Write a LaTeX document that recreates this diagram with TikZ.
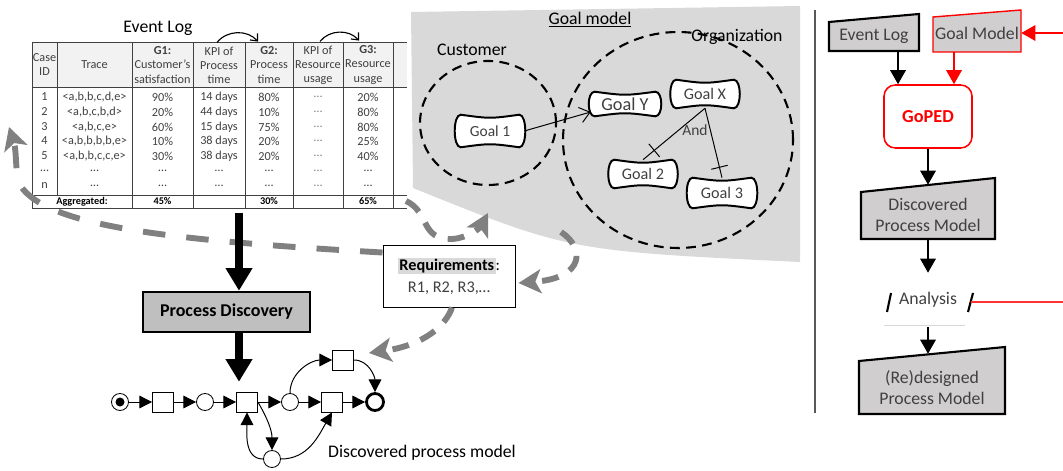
\documentclass[tikz,border=0pt]{standalone}
\usepackage{fontspec}
\setmainfont{Carlito}
\usetikzlibrary{arrows.meta,calc,backgrounds,decorations.markings}

\def\pix{0.025cm}
\definecolor{callout}{RGB}{217,217,217}
\definecolor{docfill}{RGB}{208,206,206}
\definecolor{stepfill}{RGB}{191,191,191}
\definecolor{ink}{RGB}{64,64,64}
\definecolor{flowgrey}{RGB}{128,128,128}

\newcommand{\pillow}[1]{%
  \draw[line width=1.4pt, fill=white]
    ($(#1.north west)+(5,0)$) .. controls ($(#1.north)+(0,-4)$) .. ($(#1.north east)+(-5,0)$)
    .. controls ($(#1.north east)+(3,0)$) and ($(#1.south east)+(3,0)$) .. ($(#1.south east)+(-5,0)$)
    .. controls ($(#1.south)+(0,4)$) .. ($(#1.south west)+(5,0)$)
    .. controls ($(#1.south west)+(-3,0)$) and ($(#1.north west)+(-3,0)$) .. cycle;}
\newcommand{\docshape}[6]{%
  \draw[line width=1.5pt, fill=docfill, draw=#6]
    ($(#1)+(-#2,#3)$) -- ($(#1)+(#2,#4)$) -- ($(#1)+(#2,-#5)$) -- ($(#1)+(-#2,-#5)$) -- cycle;}

\tikzset{
  big/.style={font=\fontsize{12.6}{15}\selectfont},
  cell/.style={font=\fontsize{8.7}{10}\selectfont, text=ink, inner sep=0pt, align=center},
  aggcell/.style={font=\fontsize{7.3}{9}\selectfont\bfseries, inner sep=0pt},
  tabline/.style={line width=0.6pt, draw=black!75},
  kpiarrow/.style={-{Straight Barb[length=4pt,width=7pt]}, line width=0.8pt},
  goal/.style={inner sep=0pt, text=ink},
  region/.style={line width=1.5pt, dash pattern=on 7pt off 4.5pt},
  andtick/.style={postaction={decorate}, decoration={markings,
    mark=at position #1 with {\draw[line width=0.7pt] (0,-6pt) -- (0,6pt);}}},
  place/.style={circle, draw, fill=white, minimum size=17*\pix, inner sep=0pt, line width=0.6pt},
  trans/.style={draw, fill=white, minimum width=21*\pix, minimum height=20*\pix, inner sep=0pt, line width=0.6pt},
  petriarc/.style={-{Triangle[length=9pt,width=9pt]}, line width=0.7pt},
  flow/.style={-{Triangle[length=10pt,width=11pt]}, line width=1.3pt},
  bigflow/.style={-{Triangle[length=16pt,width=18pt]}, line width=6pt},
  gdash/.style={draw=flowgrey, line width=4.2pt, dash pattern=on 16pt off 15pt,
    -{Stealth[length=16pt,width=17pt,inset=4pt]}},
  docnode/.style={big, text=ink, inner sep=0pt, align=center}
}

\begin{document}
\begin{tikzpicture}[x=\pix, y=\pix]
\useasboundingbox (0,0) rectangle (1063,-471);

% event log table
\node[big] (logtitle) at (158,-28) {Event Log};
\draw[tabline] (32,-42) -- (407,-42) (32,-87) -- (407,-87) (32,-195) -- (407,-195) (32,-208) -- (407,-208);
\foreach \x in {32,132,193,245,293,343,393} \draw[tabline] (\x,-42) -- (\x,-208);
\draw[tabline] (57,-42) -- (57,-195);

\node[cell] (hcase) at (44.5,-65) {Case\\ID};
\node[cell] (htrace) at (94.5,-65) {Trace};
\node[cell] (hgone) at (162.5,-65) {\textbf{G1:}\\Customer's\\satisfaction};
\node[cell] (hkpt) at (219,-65) {KPI of\\Process\\time};
\node[cell] (hgtwo) at (269,-65) {\textbf{G2:}\\Process\\time};
\node[cell] (hkpr) at (318,-65) {KPI of\\Resource\\usage};
\node[cell] (hgthree) at (368,-65) {\textbf{G3:}\\Resource\\usage};

\foreach \rowy/\cid/\trace/\gone/\kpit/\gtwo/\gthree in {
    97/1/{<a,b,b,c,d,e>}/90\%/14 days/80\%/20\%,
    112/2/{<a,b,c,b,d>}/20\%/44 days/10\%/80\%,
    127/3/{<a,b,c,e>}/60\%/15 days/75\%/80\%,
    141/4/{<a,b,b,b,b,e>}/10\%/38 days/20\%/25\%,
    156/5/{<a,b,b,c,c,e>}/30\%/38 days/20\%/40\%,
    171/…/…/…/…/…/…,
    186/n/…/…/…/…/…}{
  \node[cell] (id\rowy) at (44.5,-\rowy) {\cid};
  \node[cell] (tr\rowy) at (94.5,-\rowy) {\trace};
  \node[cell] (ga\rowy) at (162.5,-\rowy) {\gone};
  \node[cell] (kt\rowy) at (219,-\rowy) {\kpit};
  \node[cell] (gb\rowy) at (269,-\rowy) {\gtwo};
  \node[cell, text=gray] (kr\rowy) at (318,-\rowy) {…};
  \node[cell] (gc\rowy) at (368,-\rowy) {\gthree};
}
\node[aggcell] (agg) at (82,-201.5) {Aggregated:};
\node[aggcell] (aggone) at (162.5,-201.5) {45\%};
\node[aggcell] (aggtwo) at (269,-201.5) {30\%};
\node[aggcell] (aggthree) at (368,-201.5) {65\%};

\draw[kpiarrow] ($(hkpt.north)+(-2,4)$) to[bend left=50] ($(hgtwo.north)+(-11,5)$);
\draw[kpiarrow] ($(hkpr.north)+(2,4)$) to[bend left=50] ($(hgthree.north)+(-9,5)$);

% goal model
\node[big, align=center] (gmtitle) at (590,-20) {\underline{Goal model}};
\node[big] (cust) at (472,-50) {Customer};
\node[big] (org) at (737,-37) {Organization};
\draw[region] (488,-123) ellipse [x radius=68, y radius=62];
\draw[region] (678,-140) ellipse [x radius=115, y radius=108];

\node[goal, minimum width=68*\pix, minimum height=32*\pix, font=\fontsize{11}{13}\selectfont] (goalone) at (490,-131) {Goal 1};
\node[goal, minimum width=70*\pix, minimum height=24*\pix, font=\fontsize{13}{15}\selectfont] (goaly) at (625,-104) {Goal Y};
\node[goal, minimum width=67*\pix, minimum height=28*\pix, font=\fontsize{11.5}{13}\selectfont] (goalx) at (705,-94) {Goal X};
\node[goal, minimum width=67*\pix, minimum height=28*\pix, font=\fontsize{11.5}{13}\selectfont] (goaltwo) at (643,-174) {Goal 2};
\node[goal, minimum width=68*\pix, minimum height=30*\pix, font=\fontsize{11.5}{13}\selectfont] (goalthree) at (722,-193) {Goal 3};
\node[goal, font=\fontsize{11}{13}\selectfont] (andlbl) at (695,-130) {And};

\draw[line width=0.7pt, -{Straight Barb[length=7pt,width=11pt]}] (goalone.east) -- ($(goaly.west)+(1,-8)$);
\draw[line width=0.7pt, andtick=0.82] (goalx.south) -- (goaltwo.north);
\draw[line width=0.7pt, andtick=0.85] (goalx.south) -- (goalthree.north);

% requirements and discovery
\node[draw, fill=white, line width=0.7pt, minimum width=132*\pix, minimum height=62*\pix, align=center,
  font=\fontsize{11.6}{15.6}\selectfont] (req) at (449,-276)
  {{\fboxsep=1pt\colorbox{callout}{\textbf{Requirements}}}:\\\textcolor{ink}{R1, R2, R3,…}};
\node[draw, fill=stepfill, line width=1.8pt, minimum width=167*\pix, minimum height=40*\pix,
  font=\fontsize{12.8}{15}\selectfont\bfseries] (pd) at (226.5,-312) {Process Discovery};

% petri net
\node[place] (source) at (120,-402) {};
\node[circle, fill, inner sep=0pt, minimum size=9*\pix] (tok) at (source) {};
\node[trans] (t1) at (163,-402) {};
\node[place] (p1) at (205,-402) {};
\node[trans] (t2) at (247,-402) {};
\node[place] (p2) at (290,-402) {};
\node[trans] (t3) at (332,-402) {};
\node[place, line width=2pt] (sink) at (375,-402) {};
\node[trans] (t4) at (343,-360) {};
\node[place] (p3) at (272,-459) {};
\node[big] (pmlabel) at (422,-453) {Discovered process model};

\foreach \a/\b in {source/t1, t1/p1, p1/t2, t2/p2, p2/t3, t3/sink}
  \draw[petriarc] (\a) -- (\b);
\draw[petriarc] (p2) to[out=90, in=180] (t4);
\draw[petriarc] (t4) to[out=0, in=90] (sink);
\draw[petriarc] (t2.east) to[out=-60, in=90] (p3);
\draw[petriarc] (p3) to[out=180, in=-90] (t2.south);
\draw[petriarc] (p3) to[out=0, in=-120] (t3.south);

% grey feedback arrows
\coordinate (reqtl) at ($(req.north west)+(0,-8)$);
\coordinate (logleft) at (9,-127);
\coordinate (aggr) at (406,-201);
\coordinate (gmin) at (488,-213);
\coordinate (gmout) at (561,-232);
\draw[gdash] (reqtl) .. controls (160,-240) and (45,-225) .. (20,-185)
  .. controls (15,-176) and (17,-152) .. (logleft);
\draw[gdash, dash pattern=on 12pt off 9pt] (aggr) .. controls (430,-212) and (420,-240) .. (452,-239)
  .. controls (468,-238) and (480,-228) .. (gmin);
\draw[gdash, dash pattern=on 12pt off 9pt] (gmout) .. controls (585,-248) and (585,-278) .. ($(req.east)+(3,-7)$);
\draw[gdash, dash pattern=on 12pt off 9pt] ($(req.south)+(3,0)$) .. controls (446,-325) and (425,-345) .. ($(t4.east)+(15,7)$);

% black discovery arrows
\coordinate (logout) at (239,-213);
\draw[bigflow] (logout) -- (logout |- pd.north);
\draw[bigflow, shorten >=7pt] (pd.south -| logout) -- (logout |- t2.north);

% right panel
\draw[line width=1.5pt, black!65] (815,-10) -- (815,-413);
\node[docnode, minimum width=90*\pix, minimum height=30*\pix] (el) at (874,-36) {Event Log};
\node[docnode, minimum width=88*\pix, minimum height=38*\pix] (gm) at (977,-33) {Goal Model};
\node[draw=red, line width=1.1pt, rounded corners=8pt, minimum width=88*\pix, minimum height=63*\pix,
  text=red, font=\fontsize{13}{15}\selectfont\bfseries] (gp) at (928,-116.5) {GoPED};
\node[docnode, minimum width=133*\pix, minimum height=48*\pix] (dpm) at (928,-215) {Discovered\\Process Model};
\node[docnode, minimum width=88*\pix, minimum height=54*\pix] (an) at (928,-300) {Analysis};
\node[docnode, minimum width=146*\pix, minimum height=52*\pix] (rpm) at (932,-388) {(Re)designed\\Process Model};

\coordinate (gpinl) at ($(gp.north)+(-30,0)$);
\coordinate (gpinr) at ($(gp.north)+(26,0)$);
\coordinate (gmsrc) at (1063,-33);
\coordinate (anr) at ($(an)+(43,-2)$);
\coordinate (redout) at (1063,-302);
\draw[flow] (el.south -| gpinl) -- (gpinl);
\draw[flow, red] (gm.south -| gpinr) -- (gpinr);
\draw[flow, red] (gmsrc) -- (gm.east);
\draw[flow] (gp.south) -- ($(dpm.north)+(0,6)$);
\draw[flow] (dpm.south) -- (an.north);
\draw[flow] (an.south) -- ($(an.south |- rpm.north)+(0,8)$);
\draw[line width=1.5pt] ($(an)+(-41,-12)$) -- ($(an)+(-37,7)$);
\draw[line width=1.5pt] ($(an)+(40,-12)$) -- ($(an)+(45,7)$);
\draw[line width=0.6pt, callout] ($(an)+(-44,-25)$) -- ($(an)+(37,-25)$);
\draw[line width=1.1pt, red!80] (anr) -- (redout);

\begin{scope}[on background layer]
  \fill[callout] (411,-12) -- (800,-6) -- (800,-262) .. controls (569,-251) .. (413,-188) -- cycle;
  \fill[gray!10] (32,-42) rectangle (407,-87);
  \pillow{goalone}
  \pillow{goaly}
  \pillow{goalx}
  \pillow{goaltwo}
  \pillow{goalthree}
  \docshape{el}{45}{14}{22}{15}{black}
  \docshape{gm}{44}{16}{23}{19}{red, line width=1pt}
  \docshape{dpm}{67}{23}{37}{24}{black}
  \docshape{rpm}{73}{27}{41}{26}{black}
\end{scope}
\end{tikzpicture}
\end{document}
